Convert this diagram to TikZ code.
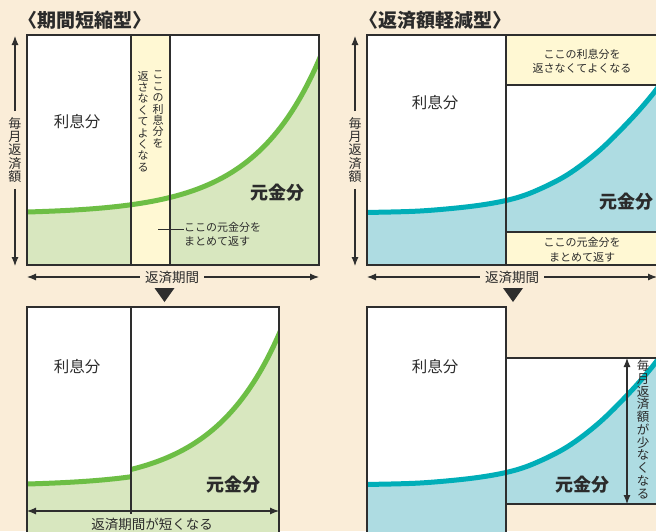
\documentclass[tikz,border=0pt]{standalone}
\usepackage{fontspec}
\setmainfont{Noto Sans CJK JP}
\usetikzlibrary{arrows.meta}
\definecolor{bgc}{HTML}{FAEDD8}
\definecolor{grn}{HTML}{6DBE45}
\definecolor{lgrn}{HTML}{D8E7BF}
\definecolor{tealc}{HTML}{00AEB8}
\definecolor{lblue}{HTML}{AEDCE2}
\definecolor{ylw}{HTML}{FFF8D3}
\definecolor{frm}{HTML}{2E2E2E}
\definecolor{txt}{HTML}{2B2B2B}
\tikzset{
  frame/.style={draw=frm, line width=1.2pt},
  gcurve/.style={draw=grn, line width=5pt},
  tcurve/.style={draw=tealc, line width=5pt},
  lbl/.style={font=\fontsize{15.5}{18}\selectfont, text=txt, inner sep=0pt},
  big/.style={font=\fontsize{18}{20}\selectfont\bfseries, text=txt, inner sep=0pt},
  small/.style={font=\fontsize{11}{14.5}\selectfont, text=txt, align=center, inner sep=0pt},
  vsmall/.style={font=\fontsize{11}{11.4}\selectfont, text=txt, align=center, inner sep=0pt},
  axislbl/.style={font=\fontsize{13.5}{16}\selectfont, text=txt, inner xsep=5pt, inner ysep=0pt},
  vaxislbl/.style={font=\fontsize{13}{13.4}\selectfont, text=txt, align=center, inner xsep=0pt, inner ysep=6pt},
  ttl/.style={font=\fontsize{19}{22}\selectfont\bfseries, text=txt, inner sep=0pt},
  arr/.style={draw=frm, line width=1.1pt, -{Latex[length=9pt,width=7pt]}},
  dblarr/.style={draw=frm, line width=1.1pt, {Latex[length=9pt,width=7pt]}-{Latex[length=9pt,width=7pt]}},
  tri/.style={fill=frm}
}
\newcommand{\gcurveexpr}[1]{212-1.93*(exp(0.015*(#1-27))-1)}
\begin{document}
\begin{tikzpicture}[x=1pt,y=-1pt]
\useasboundingbox (0,0) rectangle (656,531);
\fill[bgc] (0,0) rectangle (656,531);
\clip (0,0) rectangle (656,531);

% ---------------- titles
\node[ttl] (t1) at (85,20) {〈期間短縮型〉};
\node[ttl] (t2) at (435,20) {〈返済額軽減型〉};

% ---------------- top-left panel
\fill[white] (27,35) rectangle (319,265);
\begin{scope}
  \clip (27,35) rectangle (319,265);
  \fill[lgrn] plot[domain=27:325, samples=90] (\x, {\gcurveexpr{\x}}) -- (325,265) -- (27,265) -- cycle;
  \fill[ylw] (131,35) rectangle (170,265);
  \draw[gcurve] plot[domain=20:325, samples=90] (\x, {\gcurveexpr{\x}});
\end{scope}
\draw[frame] (27,35) rectangle (319,265);
\draw[frame] (131,35) -- (131,265);
\draw[frame] (170,35) -- (170,265);

\node[vsmall, anchor=north] (s1) at (158,71) {こ\\こ\\の\\利\\息\\分\\を};
\node[vsmall, anchor=north] (s2) at (143,71) {返\\さ\\な\\く\\て\\よ\\く\\な\\る};

\node[lbl] (tl1) at (77,122) {利息分};
\node[big] (tl2) at (277,193) {元金分};
\coordinate (ann) at (158,229);
\node[small, align=left, anchor=north west] (annt) at (184,222) {ここの元金分を\\まとめて返す};
\draw[frm, line width=0.9pt] (ann) -- (ann -| annt.west);

\node[vaxislbl] (va1) at (15,150) {毎\\月\\返\\済\\額};
\coordinate (va1t) at (15,36);
\coordinate (va1b) at (15,266);
\draw[arr] (va1.north) -- (va1t);
\draw[arr] (va1.south) -- (va1b);

\node[axislbl] (ha1) at (172,277) {返済期間};
\coordinate (ha1l) at (27,277);
\coordinate (ha1r) at (319,277);
\draw[arr] (ha1.west) -- (ha1l);
\draw[arr] (ha1.east) -- (ha1r);

\fill[tri] (154.5,288) -- (174.5,288) -- (164.5,302) -- cycle;

% ---------------- top-right panel
\def\tcurvepts{(360,212.8) (367,212.5) (420,211) (470,206.5) (506,200.5) (533,192) (567,175) (600,150) (633,117) (656,90) (666,74)}
\fill[white] (367,35) rectangle (662,265);
\begin{scope}
  \clip (367,35) rectangle (662,265);
  \fill[lblue] plot[smooth, tension=0.55] coordinates {\tcurvepts} -- (666,265) -- (360,265) -- cycle;
  \fill[ylw] (506,35) rectangle (662,85);
  \fill[ylw] (506,232) rectangle (662,265);
  \draw[tcurve] plot[smooth, tension=0.55] coordinates {\tcurvepts};
\end{scope}
\draw[frame] (367,35) rectangle (662,265);
\draw[frame] (506,35) -- (506,265);
\draw[frame] (506,85) -- (662,85);
\draw[frame] (506,232) -- (662,232);

\node[small] (tr1) at (582,61) {ここの利息分を\\返さなくてよくなる};
\node[small] (tr2) at (582,250) {ここの元金分を\\まとめて返す};
\node[lbl] (tr3) at (435,103) {利息分};
\node[big] (tr4) at (626,202) {元金分};

\node[vaxislbl] (va2) at (355,150) {毎\\月\\返\\済\\額};
\coordinate (va2t) at (355,36);
\coordinate (va2b) at (355,266);
\draw[arr] (va2.north) -- (va2t);
\draw[arr] (va2.south) -- (va2b);

\node[axislbl] (ha2) at (512,277) {返済期間};
\coordinate (ha2l) at (367,277);
\coordinate (ha2r) at (657,277);
\draw[arr] (ha2.west) -- (ha2l);
\draw[arr] (ha2.east) -- (ha2r);

\fill[tri] (503,288) -- (523,288) -- (513,302) -- cycle;

% ---------------- bottom-left panel
\fill[white] (27,307) rectangle (279,540);
\begin{scope}
  \clip (27,307) rectangle (279,540);
  \fill[lgrn] plot[domain=27:131, samples=40] (\x, {272+\gcurveexpr{\x}}) -- (131,540) -- (27,540) -- cycle;
  \fill[lgrn] plot[domain=131:286, samples=70] (\x, {272+\gcurveexpr{(\x+39)}}) -- (286,540) -- (131,540) -- cycle;
  \draw[gcurve] plot[domain=20:131, samples=40] (\x, {272+\gcurveexpr{\x}});
  \draw[gcurve] plot[domain=131:286, samples=70] (\x, {272+\gcurveexpr{(\x+39)}});
\end{scope}
\draw[frame] (27,307) rectangle (279,545);
\draw[frame] (131,307) -- (131,514);

\node[lbl] (bl1) at (77,367) {利息分};
\node[big] (bl2) at (233,485) {元金分};

\coordinate (bla) at (27,511);
\coordinate (blb) at (279,511);
\draw[dblarr] (bla) -- (blb);
\node[font=\fontsize{13.5}{16}\selectfont, text=txt, inner sep=0pt] (bl3) at (152,524) {返済期間が短くなる};

% ---------------- bottom-right panel
\fill[white] (367,307) rectangle (506,545);
\fill[white] (506,358) rectangle (662,504);
\begin{scope}
  \clip (367,307) rectangle (506,545) (506,358) rectangle (662,504);
  \begin{scope}[shift={(0,272)}]
    \fill[lblue] plot[smooth, tension=0.55] coordinates {\tcurvepts} -- (666,275) -- (360,275) -- cycle;
    \draw[tcurve] plot[smooth, tension=0.55] coordinates {\tcurvepts};
  \end{scope}
\end{scope}
\draw[frame] (367,307) rectangle (506,545);
\draw[frame] (506,358) rectangle (662,504);

\node[lbl] (br1) at (435,367) {利息分};
\node[big] (br2) at (582,485) {元金分};

\coordinate (bra) at (627,358);
\coordinate (brb) at (627,504);
\draw[dblarr] (bra) -- (brb);
\node[font=\fontsize{12.5}{12.75}\selectfont, text=txt, align=center, inner sep=0pt, anchor=north] (br3) at (643,360) {毎\\月\\返\\済\\額\\が\\少\\な\\く\\な\\る};

\end{tikzpicture}
\end{document}
